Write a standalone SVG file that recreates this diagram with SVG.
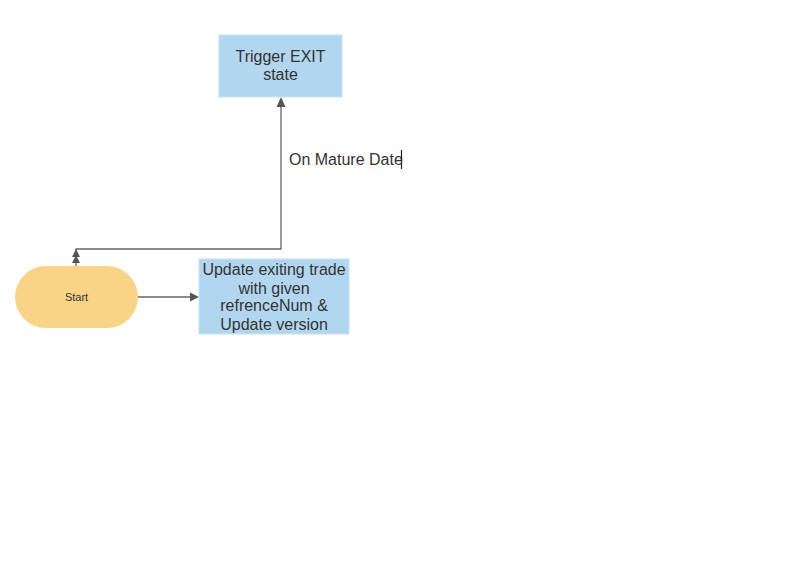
<svg xmlns="http://www.w3.org/2000/svg" width="790" height="588" viewBox="0 0 790 588">
<style>
.box{fill:#b3d6f0;stroke:#c6e2f4;stroke-width:1}
.lbl{font-family:"Liberation Sans",Arial,sans-serif;font-size:16px;fill:#333;text-anchor:middle}
.edge{fill:none;stroke:#666;stroke-width:1.3}
.head{fill:#555}
</style>
<rect width="790" height="588" fill="#fff"/>
<g id="connectors">
<path class="edge" d="M76,266 V249 H281 V103"/>
<polygon class="head" points="281,97 276.5,107 285.5,107"/>
<polygon class="head" points="76,249 72,257 80,257"/>
<polygon class="head" points="76,255 72,263 80,263"/>
<path class="edge" d="M138,297 H193"/>
<polygon class="head" points="199,297 190,292.5 190,301.5"/>
</g>
<g id="trigger">
<rect class="box" x="219" y="35" width="123" height="62"/>
<text class="lbl" x="280.5" y="61.5">Trigger EXIT</text>
<text class="lbl" x="280.5" y="80">state</text>
</g>
<g id="update">
<rect class="box" x="199" y="259" width="150" height="75"/>
<text class="lbl" x="274" y="275">Update exiting trade</text>
<text class="lbl" x="274" y="293.5">with given</text>
<text class="lbl" x="274" y="311">refrenceNum &amp;</text>
<text class="lbl" x="274" y="329.5">Update version</text>
</g>
<g id="start">
<rect x="15" y="266" width="123" height="62" rx="31" ry="31" fill="#fad486"/>
<text x="76.5" y="301" font-family="'Liberation Sans',Arial,sans-serif" font-size="11" fill="#333" text-anchor="middle">Start</text>
</g>
<g id="edge-label">
<text x="289" y="165" font-family="'Liberation Sans',Arial,sans-serif" font-size="16" fill="#333">On Mature Date</text>
<line x1="401.5" y1="150" x2="401.5" y2="169" stroke="#222" stroke-width="1.2"/>
</g>
</svg>
